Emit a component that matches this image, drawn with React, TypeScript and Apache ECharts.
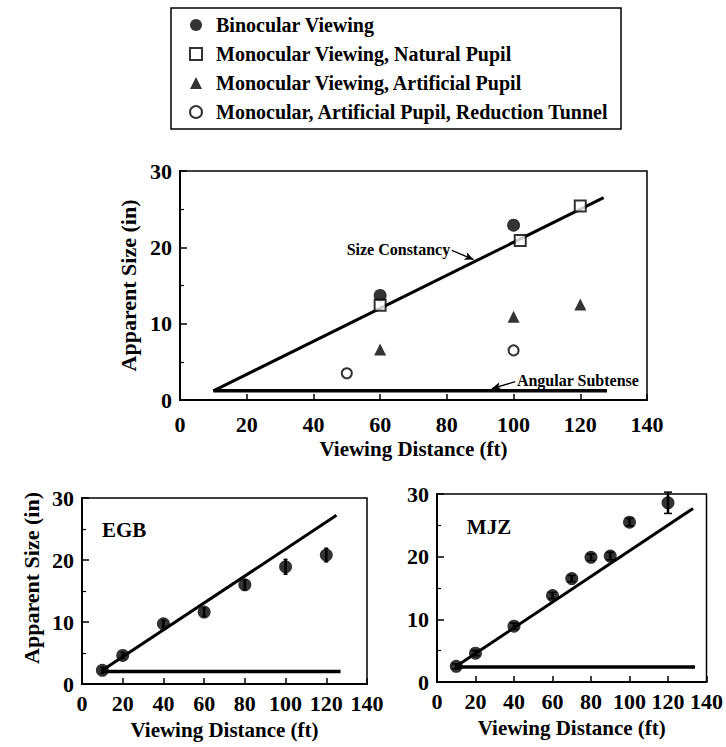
import React, { useEffect, useRef } from "react";
import * as echarts from "echarts";

const FONT = "Liberation Serif";

const legendNames = [
  "Binocular Viewing",
  "Monocular Viewing, Natural Pupil",
  "Monocular Viewing, Artificial Pupil",
  "Monocular, Artificial Pupil, Reduction Tunnel",
];

// Top panel
const binocular = [[60, 13.7], [100, 22.9]];
const naturalPupil = [[60, 12.4], [102, 20.9], [120, 25.4]];
const artificialPupil = [[60, 6.6], [100, 10.9], [120, 12.5]];
const reductionTunnel = [[50, 3.5], [100, 6.5]];
const topConstancy = [[10, 1.2], [127, 26.5]];
const topAngular = [[10, 1.2], [128, 1.2]];

// EGB panel
const egbX = [10, 20, 40, 60, 80, 100, 120];
const egbY = [2.2, 4.6, 9.7, 11.6, 16.0, 18.9, 20.8];
const egbErr = [0.5, 0.5, 0.6, 0.7, 0.8, 1.2, 1.1];
const egbConstancy = [[10, 2.2], [125, 27.2]];
const egbAngular = [[10, 2.0], [127, 2.0]];

// MJZ panel
const mjzX = [10, 20, 40, 60, 70, 80, 90, 100, 120];
const mjzY = [2.5, 4.6, 8.9, 13.8, 16.5, 19.9, 20.1, 25.5, 28.6];
const mjzErr = [0.4, 0.4, 0.5, 0.5, 0.5, 0.5, 0.6, 0.6, 1.7];
const mjzConstancy = [[10, 2.5], [133, 27.7]];
const mjzAngular = [[10, 2.4], [134, 2.4]];

const xName = "Viewing Distance (ft)";
const yName = "Apparent Size (in)";

function xAxis(gridIndex: number, margin: number, nameGap: number) {
  return {
    type: "value",
    gridIndex,
    min: 0,
    max: 140,
    interval: 20,
    name: xName,
    nameLocation: "middle",
    nameGap,
    nameTextStyle: { fontFamily: FONT, fontWeight: "bold", fontSize: 21, color: "#000" },
    axisLine: { lineStyle: { color: "#000", width: 2 } },
    axisTick: { inside: true, length: 6, lineStyle: { color: "#000", width: 1.5 } },
    axisLabel: { margin, fontFamily: FONT, fontWeight: "bold", fontSize: 22, color: "#000" },
    splitLine: { show: false },
  };
}

function yAxis(gridIndex: number, withName: boolean, nameGap: number, namePad: number[]) {
  return {
    type: "value",
    gridIndex,
    min: 0,
    max: 30,
    interval: 10,
    name: withName ? yName : "",
    nameLocation: "middle",
    nameGap,
    nameTextStyle: { fontFamily: FONT, fontWeight: "bold", fontSize: 22, color: "#000", padding: namePad },
    axisLine: { lineStyle: { color: "#000", width: 2 } },
    axisTick: { inside: true, length: 7, lineStyle: { color: "#000", width: 1.5 } },
    minorTick: { show: true, splitNumber: 2, length: 4, lineStyle: { color: "#000", width: 1.2 } },
    axisLabel: { margin: 8, fontFamily: FONT, fontWeight: "bold", fontSize: 22, color: "#000" },
    splitLine: { show: false },
  };
}

function lineSeries(data: number[][], idx: number, width: number) {
  return {
    type: "line",
    xAxisIndex: idx,
    yAxisIndex: idx,
    data,
    symbol: "none",
    lineStyle: { color: "#000", width },
    silent: true,
    z: 2,
  };
}

function errorSeries(xs: number[], ys: number[], errs: number[], idx: number, cap: number) {
  return {
    type: "custom",
    xAxisIndex: idx,
    yAxisIndex: idx,
    data: xs.map((x, i) => [x, ys[i], errs[i]]),
    encode: { x: 0, y: 1 },
    silent: true,
    z: 3,
    renderItem: (params: any, api: any) => {
      const x = api.value(0);
      const y = api.value(1);
      const e = api.value(2);
      const t = api.coord([x, y + e]);
      const b = api.coord([x, y - e]);
      return {
        type: "group",
        children: [
          { type: "line", shape: { x1: t[0], y1: t[1], x2: b[0], y2: b[1] }, style: { stroke: "#000", lineWidth: 2.5 } },
          { type: "line", shape: { x1: t[0] - cap, y1: t[1], x2: t[0] + cap, y2: t[1] }, style: { stroke: "#000", lineWidth: 1.5 } },
          { type: "line", shape: { x1: b[0] - cap, y1: b[1], x2: b[0] + cap, y2: b[1] }, style: { stroke: "#000", lineWidth: 1.5 } },
        ],
      };
    },
  };
}

function dotSeries(xs: number[], ys: number[], idx: number) {
  return {
    type: "scatter",
    xAxisIndex: idx,
    yAxisIndex: idx,
    data: xs.map((x, i) => [x, ys[i]]),
    symbol: "circle",
    symbolSize: 13,
    itemStyle: { color: "#000" },
    z: 4,
  };
}

function labelSeries(idx: number, pos: number[], text: string, position: string, size: number, arrow?: number[][]) {
  const s: any = {
    type: "scatter",
    xAxisIndex: idx,
    yAxisIndex: idx,
    data: [pos],
    symbolSize: 0,
    silent: true,
    z: 5,
    itemStyle: { color: "#000", opacity: 1 },
    label: {
      show: true,
      position,
      distance: 0,
      formatter: text,
      fontFamily: FONT,
      fontWeight: "bold",
      fontSize: size,
      color: "#000",
      opacity: 1,
      textBorderWidth: 0,
    },
  };
  if (arrow) {
    s.markLine = {
      silent: true,
      symbol: ["none", "arrow"],
      symbolSize: [6, 9],
      label: { show: false },
      lineStyle: { color: "#000", width: 1.3, type: "solid", opacity: 1 },
      animation: false,
      data: [[{ coord: arrow[0] }, { coord: arrow[1] }]],
    };
  }
  return s;
}

export default function App() {
  const ref = useRef<HTMLDivElement>(null);
  useEffect(() => {
    document.body.style.margin = "0";
    const chart = echarts.init(ref.current!, undefined, { renderer: "svg" });
    const gridStyle = { show: true, borderColor: "#000", borderWidth: 1.5, backgroundColor: "transparent" };
    chart.setOption({
      animation: false,
      backgroundColor: "#fff",
      textStyle: { fontFamily: FONT },
      legend: {
        data: legendNames,
        orient: "vertical",
        left: 171,
        top: 8,
        padding: [6, 12, 6, 18],
        itemWidth: 12,
        itemHeight: 12,
        itemGap: 7,
        borderColor: "#000",
        borderWidth: 1.5,
        selectedMode: false,
        textStyle: { fontFamily: FONT, fontWeight: "bold", fontSize: 20, color: "#000", padding: [0, 0, 0, 9], lineHeight: 22 },
      },
      grid: [
        { left: 180, top: 171, width: 467, height: 229, ...gridStyle },
        { left: 82, top: 498, width: 285, height: 186, ...gridStyle },
        { left: 437, top: 494, width: 270, height: 188, ...gridStyle },
      ],
      xAxis: [xAxis(0, 13, 38), xAxis(1, 8, 35), xAxis(2, 8, 35)],
      yAxis: [yAxis(0, true, 36, [0, 0, 0, 0]), yAxis(1, true, 40, [0, 0, 0, 26]), yAxis(2, false, 40, [0, 0, 0, 0])],
      series: [
        lineSeries(topConstancy, 0, 3),
        lineSeries(topAngular, 0, 3.5),
        {
          name: legendNames[0], type: "scatter", xAxisIndex: 0, yAxisIndex: 0, data: binocular,
          symbol: "circle", symbolSize: 13, itemStyle: { color: "#000" }, z: 4,
        },
        {
          name: legendNames[1], type: "scatter", xAxisIndex: 0, yAxisIndex: 0, data: naturalPupil,
          symbol: "rect", symbolSize: 11, itemStyle: { color: "#fff", borderColor: "#000", borderWidth: 2 }, z: 4,
        },
        {
          name: legendNames[2], type: "scatter", xAxisIndex: 0, yAxisIndex: 0, data: artificialPupil,
          symbol: "triangle", symbolSize: 12, itemStyle: { color: "#000" }, z: 4,
        },
        {
          name: legendNames[3], type: "scatter", xAxisIndex: 0, yAxisIndex: 0, data: reductionTunnel,
          symbol: "circle", symbolSize: 10, itemStyle: { color: "#fff", borderColor: "#000", borderWidth: 2 }, z: 4,
        },
        labelSeries(0, [81, 19.7], "Size Constancy", "left", 16, [[81.5, 19.6], [88, 18.4]]),
        labelSeries(0, [101, 2.5], "Angular Subtense", "right", 16, [[100.5, 2.4], [93.5, 1.5]]),

        lineSeries(egbConstancy, 1, 3),
        lineSeries(egbAngular, 1, 3.5),
        errorSeries(egbX, egbY, egbErr, 1, 2),
        dotSeries(egbX, egbY, 1),
        labelSeries(1, [9.8, 24.8], "EGB", "right", 21),

        lineSeries(mjzConstancy, 2, 3),
        lineSeries(mjzAngular, 2, 3.5),
        errorSeries(mjzX, mjzY, mjzErr, 2, 4),
        dotSeries(mjzX, mjzY, 2),
        labelSeries(2, [15.5, 24.7], "MJZ", "right", 21),
      ],
    });
    return () => chart.dispose();
  }, []);
  return <div ref={ref} style={{ width: 726, height: 747 }} />;
}
